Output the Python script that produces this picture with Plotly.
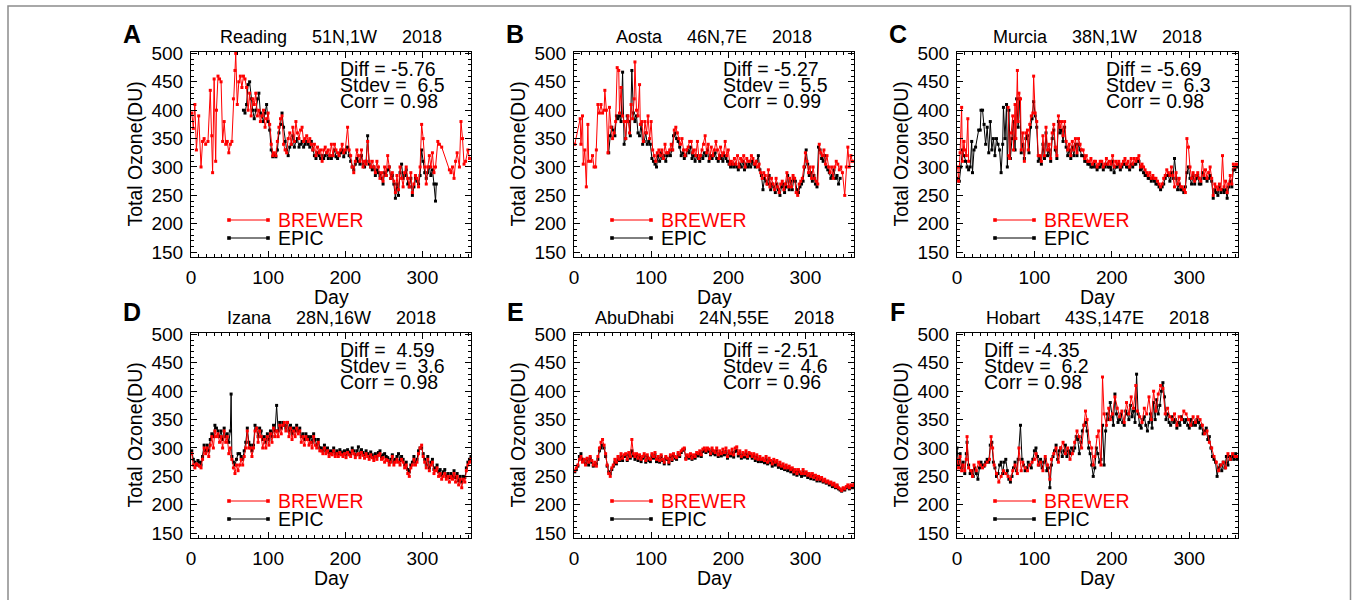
import plotly.graph_objects as go

W, H = 1356, 600
FONT = "Liberation Sans, Arial, Helvetica, sans-serif"

# ---------------- data ----------------
stations = ["Reading", "Aosta", "Murcia", "Izana", "AbuDhabi", "Hobart"]
locations = ["51N,1W", "46N,7E", "38N,1W", "28N,16W", "24N,55E", "43S,147E"]
year = "2018"
diffs = ["-5.76", "-5.27", "-5.69", "4.59", "-2.51", "-4.35"]
stdevs = ["6.5", "5.5", "6.3", "3.6", "4.6", "6.2"]
corrs = ["0.98", "0.99", "0.98", "0.98", "0.96", "0.98"]
letters = ["A", "B", "C", "D", "E", "F"]
x_ticks = [0, 100, 200, 300]
y_ticks = [150, 200, 250, 300, 350, 400, 450, 500]
series_names = ["BREWER", "EPIC"]

reading_brewer = [(1,395),(3,368),(5,410),(7,330),(10,390),(13,300),(15,345),(17,350),(19,340),(22,345),(25,435),(27,355),(28,290),(30,455),(32,310),(33,400),(35,460),(37,455),(39,450),(41,345),(43,380),(45,340),(47,345),(49,325),(51,340),(53,345),(55,420),(57,470),(58,500),(60,410),(62,450),(64,460),(66,440),(68,460),(70,455),(72,440),(74,400),(76,430),(78,390),(80,420),(82,410),(84,430),(86,390),(88,400),(90,380),(92,390),(94,400),(96,370),(98,385),(100,395),(102,375),(104,340),(106,320),(108,325),(110,320),(112,345),(114,370),(116,385),(118,390),(120,340),(122,330),(124,325),(126,350),(128,360),(130,340),(132,370),(134,345),(136,380),(138,360),(140,350),(142,365),(144,370),(146,345),(148,350),(150,355),(152,345),(154,350),(156,340),(158,330),(160,340),(162,320),(164,335),(166,325),(168,330),(170,310),(172,330),(174,335),(176,325),(178,330),(180,320),(182,340),(184,320),(186,340),(188,330),(190,325),(192,320),(194,330),(196,340),(198,325),(200,330),(203,370),(205,330),(207,320),(209,300),(211,290),(213,310),(215,330),(217,320),(219,310),(221,330),(223,300),(225,310),(227,305),(229,345),(231,310),(233,300),(235,310),(237,300),(239,290),(241,310),(243,300),(245,280),(247,290),(249,275),(251,300),(253,285),(255,320),(257,300),(259,280),(261,290),(263,275),(265,255),(267,285),(269,260),(271,300),(273,280),(275,265),(277,290),(279,300),(281,280),(283,265),(285,290),(287,255),(289,270),(291,285),(293,280),(295,265),(297,300),(299,375),(301,350),(303,300),(305,270),(307,300),(309,320),(311,300),(313,325),(315,290),(317,300),(320,345),(322,340),(325,335),(335,295),(337,290),(339,300),(341,280),(343,310),(345,325),(348,300),(350,380),(352,350),(354,305),(356,310),(359,330),(361,315)]
reading_epic = [(68,400),(70,395),(72,410),(74,445),(76,450),(78,420),(80,400),(82,385),(84,400),(86,420),(88,430),(90,395),(92,390),(94,380),(96,395),(98,410),(100,380),(102,365),(104,330),(106,318),(108,320),(110,318),(112,330),(114,360),(116,375),(118,395),(120,370),(122,345),(124,330),(126,320),(128,335),(130,340),(132,355),(134,335),(136,345),(138,350),(140,335),(142,340),(144,345),(146,335),(148,340),(150,345),(152,340),(154,335),(156,345),(158,330),(160,320),(162,315),(164,325),(166,320),(168,315),(170,320),(172,315),(174,320),(176,325),(178,315),(180,320),(182,315),(184,320),(186,330),(188,318),(190,315),(192,320),(194,325),(196,330),(198,318),(200,325),(203,335),(205,320),(207,310),(209,300),(211,295),(213,305),(215,315),(217,310),(219,305),(221,320),(223,305),(225,300),(227,310),(229,355),(231,305),(233,300),(235,295),(237,300),(239,285),(241,295),(243,290),(245,285),(247,280),(249,270),(251,290),(253,285),(255,295),(257,300),(259,280),(261,285),(263,270),(265,245),(267,270),(269,250),(271,290),(273,305),(275,280),(277,285),(279,295),(281,270),(283,265),(285,280),(287,250),(289,265),(291,280),(293,275),(295,270),(297,285),(299,330),(301,310),(303,290),(305,280),(307,290),(309,300),(311,285),(313,295),(315,270),(317,240),(318,270)]

aosta_brewer = [(1,340),(8,385),(9,340),(11,390),(12,305),(14,330),(16,265),(18,375),(19,310),(22,310),(24,320),(26,300),(28,300),(29,330),(31,410),(33,395),(35,410),(37,395),(39,400),(40,435),(42,400),(44,325),(46,405),(48,370),(50,350),(52,360),(54,380),(56,475),(58,470),(59,395),(61,440),(63,390),(65,380),(67,350),(68,380),(70,390),(72,360),(74,410),(76,385),(78,420),(79,485),(81,400),(83,390),(85,445),(86,375),(88,380),(90,345),(92,380),(94,360),(96,390),(98,350),(100,380),(102,330),(104,320),(106,310),(108,325),(110,330),(112,320),(114,330),(116,315),(118,340),(120,325),(122,325),(124,330),(126,340),(128,330),(130,365),(132,370),(134,360),(136,350),(138,340),(140,350),(142,330),(144,320),(146,330),(148,335),(150,345),(152,345),(154,325),(156,330),(158,320),(160,345),(162,315),(164,320),(166,330),(168,340),(170,355),(172,325),(174,340),(176,315),(178,335),(180,320),(182,330),(184,345),(186,330),(188,315),(190,335),(192,320),(194,325),(196,345),(198,320),(200,330),(202,305),(204,310),(206,305),(208,315),(210,305),(212,320),(214,300),(216,315),(218,310),(220,320),(222,300),(224,315),(226,310),(228,310),(230,320),(232,315),(234,305),(236,310),(238,300),(240,305),(242,290),(244,280),(246,290),(248,285),(250,270),(252,295),(254,265),(256,280),(258,270),(260,260),(262,280),(264,265),(266,255),(268,270),(270,275),(272,260),(274,270),(276,290),(278,265),(280,280),(282,265),(284,285),(286,280),(288,255),(290,250),(292,270),(294,275),(296,280),(298,300),(300,325),(302,310),(304,290),(306,300),(308,280),(310,300),(312,280),(314,275),(316,270),(318,340),(320,325),(322,320),(324,330),(326,305),(328,320),(330,300),(332,290),(334,300),(336,280),(338,300),(340,310),(342,305),(344,295),(346,300),(348,290),(351,250),(353,300),(355,335),(357,300),(359,320),(361,310)]
aosta_epic = [(45,325),(47,355),(49,370),(51,365),(53,355),(55,390),(57,385),(59,390),(61,380),(63,467),(65,340),(67,350),(69,390),(71,380),(73,355),(75,470),(77,395),(79,380),(81,390),(83,360),(85,355),(87,375),(89,340),(91,345),(93,360),(95,340),(97,345),(99,340),(101,315),(103,310),(105,305),(107,300),(109,320),(111,310),(113,325),(115,315),(117,320),(119,310),(121,320),(123,325),(125,320),(127,330),(129,355),(131,360),(133,350),(135,345),(137,335),(139,320),(141,325),(143,315),(145,320),(147,330),(149,325),(151,335),(153,315),(155,320),(157,310),(159,320),(161,315),(163,310),(165,320),(167,315),(169,325),(171,320),(173,330),(175,310),(177,320),(179,315),(181,320),(183,325),(185,315),(187,310),(189,320),(191,315),(193,310),(195,320),(197,315),(199,310),(201,305),(203,300),(205,305),(207,300),(209,305),(211,300),(213,295),(215,305),(217,300),(219,310),(221,295),(223,305),(225,300),(227,305),(229,300),(231,310),(233,305),(235,300),(237,310),(239,320),(241,295),(243,285),(245,260),(247,280),(249,275),(251,270),(253,285),(255,260),(257,270),(259,265),(261,255),(263,270),(265,260),(267,250),(269,265),(271,270),(273,255),(275,265),(277,285),(279,260),(281,275),(283,260),(285,280),(287,275),(289,260),(291,255),(293,265),(295,270),(297,275),(299,300),(301,330),(303,305),(305,285),(307,290),(309,275),(311,285),(313,270),(315,265),(317,335),(319,330),(321,315),(323,310),(325,320),(327,300),(329,295),(331,290),(333,280),(335,285),(337,295),(339,280),(341,285),(343,270),(345,280)]

murcia_brewer = [(1,300),(2,275),(4,325),(6,405),(7,310),(9,345),(10,330),(12,320),(14,385),(15,310),(40,None),(66,405),(67,320),(68,315),(70,360),(72,390),(73,330),(75,410),(76,350),(78,470),(79,380),(80,430),(82,420),(83,330),(85,360),(87,310),(89,360),(91,365),(92,330),(94,375),(96,390),(98,395),(99,460),(101,395),(103,380),(105,320),(107,320),(109,310),(111,355),(113,320),(115,370),(117,330),(119,340),(121,315),(123,360),(125,375),(127,335),(129,320),(131,390),(133,370),(135,380),(137,355),(139,380),(141,345),(143,330),(145,340),(147,320),(149,345),(151,330),(153,350),(155,325),(157,350),(159,340),(161,330),(163,330),(165,315),(167,320),(169,310),(171,310),(173,315),(175,305),(177,310),(179,310),(181,300),(183,305),(185,310),(187,310),(189,300),(191,305),(193,315),(195,305),(197,310),(199,305),(201,320),(203,300),(205,310),(207,305),(209,310),(211,300),(213,305),(215,310),(217,315),(219,305),(221,310),(223,300),(225,315),(227,305),(229,315),(231,310),(233,315),(235,320),(237,300),(239,305),(241,300),(243,295),(245,290),(247,285),(249,290),(251,280),(253,285),(255,280),(257,280),(259,275),(261,270),(263,265),(265,270),(267,280),(269,285),(271,295),(273,290),(275,285),(277,300),(279,285),(281,265),(283,290),(285,270),(287,280),(289,265),(291,265),(293,260),(295,255),(297,350),(299,335),(301,300),(303,280),(305,290),(307,275),(309,285),(311,290),(313,280),(315,275),(317,310),(319,285),(321,295),(323,280),(325,290),(327,300),(329,280),(331,250),(333,270),(335,265),(337,260),(339,270),(341,260),(343,320),(345,265),(347,275),(349,255),(351,270),(353,285),(355,270),(357,305),(359,300),(361,305)]
murcia_epic = [(1,280),(3,275),(5,300),(7,330),(9,320),(11,310),(13,300),(15,295),(17,300),(19,345),(20,290),(22,330),(24,335),(28,365),(30,365),(31,400),(33,400),(35,375),(37,340),(39,370),(41,325),(43,380),(45,330),(47,350),(49,320),(51,350),(53,340),(55,330),(57,290),(59,340),(60,405),(62,350),(64,410),(65,300),(67,400),(69,315),(71,350),(73,380),(75,330),(77,420),(79,370),(81,420),(83,325),(85,340),(87,315),(89,350),(91,355),(93,325),(95,370),(97,385),(99,415),(101,390),(103,370),(105,310),(107,315),(109,305),(111,340),(113,315),(115,360),(117,320),(119,330),(121,310),(123,350),(125,365),(127,330),(129,315),(131,380),(133,360),(135,365),(137,345),(139,370),(141,335),(143,320),(145,330),(147,315),(149,335),(151,320),(153,340),(155,320),(157,340),(159,330),(161,320),(163,320),(165,310),(167,310),(169,305),(171,305),(173,300),(175,300),(177,305),(179,300),(181,295),(183,300),(185,300),(187,305),(189,295),(191,300),(193,305),(195,300),(197,300),(199,295),(201,310),(203,290),(205,300),(207,300),(209,305),(211,295),(213,300),(215,305),(217,305),(219,300),(221,300),(223,295),(225,305),(227,300),(229,305),(231,305),(233,310),(235,310),(237,295),(239,300),(241,290),(243,285),(245,285),(247,280),(249,280),(251,275),(253,280),(255,275),(257,270),(259,270),(261,265),(263,260),(265,265),(267,270),(269,280),(271,285),(273,285),(275,275),(277,290),(279,280),(281,315),(283,280),(285,260),(287,270),(289,260),(291,260),(293,255),(295,265),(297,290),(299,300),(301,280),(303,270),(305,285),(307,270),(309,280),(311,285),(313,270),(315,270),(317,290),(319,280),(321,280),(323,275),(325,280),(327,285),(329,275),(331,245),(333,260),(335,255),(337,250),(339,265),(341,255),(343,260),(345,255),(347,260),(349,245),(351,265),(353,275),(355,265),(357,295),(359,295),(361,300)]

izana_brewer = [(1,290),(3,270),(5,265),(7,272),(9,270),(11,268),(13,265),(15,280),(17,300),(19,290),(21,300),(23,285),(25,305),(27,320),(29,300),(31,330),(33,320),(35,325),(37,310),(39,320),(41,300),(43,330),(45,310),(47,320),(49,290),(51,300),(53,280),(55,265),(57,255),(59,270),(61,260),(63,270),(65,280),(67,270),(69,285),(71,300),(73,330),(75,300),(77,300),(79,285),(81,300),(83,330),(85,335),(87,310),(89,330),(91,320),(93,300),(95,315),(97,300),(99,320),(101,305),(103,325),(105,310),(107,335),(109,320),(111,330),(113,320),(115,340),(117,325),(119,340),(121,345),(123,330),(125,345),(127,320),(129,335),(131,315),(133,330),(135,320),(137,335),(139,325),(141,330),(143,310),(145,320),(147,305),(149,320),(151,315),(153,305),(155,310),(157,300),(159,320),(161,305),(163,300),(165,310),(167,295),(169,295),(171,290),(173,300),(175,290),(177,295),(179,285),(181,290),(183,288),(185,295),(187,285),(189,290),(191,285),(193,292),(195,288),(197,285),(199,290),(201,283),(203,292),(205,288),(207,285),(209,295),(211,290),(213,283),(215,288),(217,290),(219,283),(221,292),(223,287),(225,282),(227,290),(229,285),(231,280),(233,288),(235,283),(237,278),(239,285),(241,280),(243,287),(245,290),(247,280),(249,283),(251,275),(253,280),(255,278),(257,270),(259,275),(261,285),(263,270),(265,275),(267,280),(269,275),(271,270),(273,280),(275,275),(277,265),(279,270),(281,255),(283,250),(285,265),(287,270),(289,280),(291,270),(293,275),(295,290),(297,300),(299,305),(301,285),(303,275),(305,265),(307,280),(309,260),(311,270),(313,275),(315,255),(317,260),(319,265),(321,250),(323,255),(325,245),(327,250),(329,255),(331,245),(333,250),(335,240),(337,250),(339,245),(341,255),(343,240),(345,250),(347,235),(349,245),(351,230),(353,245),(355,240),(357,260),(359,270),(361,275),(363,280)]
izana_epic = [(1,295),(3,280),(5,275),(7,270),(9,278),(11,275),(13,270),(15,285),(17,305),(19,295),(21,305),(23,295),(25,315),(27,325),(29,320),(31,340),(33,335),(35,330),(37,320),(39,330),(41,315),(43,335),(45,320),(47,325),(49,310),(51,330),(52,395),(53,285),(55,275),(57,270),(59,280),(61,290),(63,290),(65,285),(67,280),(69,295),(71,310),(73,335),(75,310),(77,305),(79,295),(81,305),(83,340),(85,335),(87,320),(89,335),(91,330),(93,315),(95,320),(97,310),(99,325),(101,315),(103,330),(105,320),(107,340),(109,330),(111,375),(113,330),(115,345),(117,335),(119,345),(121,340),(123,335),(125,345),(127,330),(129,340),(131,325),(133,335),(135,330),(137,340),(139,330),(141,335),(143,320),(145,325),(147,315),(149,325),(151,320),(153,315),(155,320),(157,310),(159,325),(161,315),(163,305),(165,315),(167,300),(169,300),(171,295),(173,305),(175,295),(177,300),(179,292),(181,295),(183,293),(185,300),(187,290),(189,295),(191,290),(193,297),(195,293),(197,290),(199,295),(201,288),(203,297),(205,293),(207,290),(209,300),(211,295),(213,288),(215,295),(217,302),(219,288),(221,297),(223,292),(225,288),(227,295),(229,290),(231,285),(233,293),(235,288),(237,283),(239,290),(241,285),(243,292),(245,295),(247,285),(249,288),(251,290),(253,285),(255,283),(257,275),(259,280),(261,288),(263,275),(265,280),(267,285),(269,290),(271,278),(273,285),(275,280),(277,270),(279,275),(281,262),(283,258),(285,270),(287,275),(289,285),(291,275),(293,280),(295,295),(297,300),(299,300),(301,290),(303,280),(305,270),(307,285),(309,265),(311,275),(313,280),(315,262),(317,265),(319,270),(321,258),(323,262),(325,252),(327,258),(329,262),(331,250),(333,255),(335,248),(337,255),(339,250),(341,260),(343,248),(345,255),(347,242),(349,250),(351,240),(353,250),(355,248),(357,265),(359,275),(361,280),(363,285)]

abudhabi_brewer = [(1,260),(3,265),(5,270),(7,280),(9,285),(11,275),(13,280),(15,270),(17,282),(19,275),(21,285),(23,278),(25,270),(27,275),(29,268),(31,285),(33,300),(35,310),(37,315),(39,305),(41,290),(43,270),(45,255),(47,250),(49,265),(51,270),(53,280),(55,275),(57,285),(59,280),(61,290),(63,282),(65,288),(67,290),(69,280),(71,292),(73,285),(75,315),(77,290),(79,285),(81,290),(83,282),(85,288),(87,280),(89,285),(91,290),(93,278),(95,288),(97,282),(99,280),(101,290),(103,285),(105,292),(107,280),(109,285),(111,278),(113,288),(115,280),(117,275),(119,285),(121,282),(123,275),(125,288),(127,280),(129,290),(131,285),(133,283),(135,292),(137,288),(139,295),(141,298),(143,300),(145,280),(147,288),(149,285),(151,290),(153,282),(155,288),(157,285),(159,292),(161,290),(163,295),(165,288),(167,298),(169,300),(171,295),(173,300),(175,298),(177,290),(179,300),(181,295),(183,292),(185,300),(187,288),(189,295),(191,290),(193,298),(195,292),(197,300),(199,285),(201,295),(203,290),(205,298),(207,288),(209,300),(211,302),(213,290),(215,295),(217,285),(219,292),(221,288),(223,295),(225,285),(227,292),(229,290),(231,285),(233,290),(235,282),(237,288),(239,280),(241,285),(243,280),(245,282),(247,278),(249,285),(251,275),(253,282),(255,278),(257,272),(259,280),(261,275),(263,278),(265,270),(267,275),(269,268),(271,272),(273,265),(275,270),(277,265),(279,268),(281,262),(283,265),(285,258),(287,262),(289,255),(291,262),(293,258),(295,255),(297,262),(299,255),(301,258),(303,252),(305,255),(307,250),(309,255),(311,248),(313,252),(315,245),(317,250),(319,245),(321,248),(323,242),(325,245),(327,240),(329,242),(331,238),(333,240),(335,235),(337,238),(339,232),(341,235),(343,230),(345,228),(347,225),(349,230),(351,228),(353,232),(355,235),(357,230),(359,235),(361,232),(363,236)]
abudhabi_epic = [(1,258),(3,262),(5,268),(7,285),(9,290),(11,280),(13,278),(15,272),(17,280),(19,270),(21,282),(23,275),(25,268),(27,270),(29,272),(31,280),(33,295),(35,300),(37,305),(39,300),(41,285),(43,268),(45,258),(47,255),(49,262),(51,268),(53,275),(55,272),(57,280),(59,278),(61,285),(63,278),(65,285),(67,286),(69,278),(71,288),(73,282),(75,295),(77,286),(79,280),(81,285),(83,278),(85,284),(87,276),(89,282),(91,286),(93,275),(95,284),(97,278),(99,276),(101,286),(103,282),(105,288),(107,276),(109,282),(111,275),(113,285),(115,278),(117,272),(119,282),(121,280),(123,272),(125,285),(127,278),(129,286),(131,282),(133,280),(135,288),(137,285),(139,292),(141,296),(143,298),(145,282),(147,285),(149,282),(151,286),(153,280),(155,284),(157,282),(159,288),(161,286),(163,290),(165,285),(167,294),(169,296),(171,292),(173,296),(175,294),(177,288),(179,296),(181,290),(183,288),(185,295),(187,285),(189,290),(191,286),(193,292),(195,288),(197,294),(199,282),(201,290),(203,286),(205,292),(207,284),(209,294),(211,296),(213,286),(215,290),(217,282),(219,288),(221,284),(223,290),(225,282),(227,288),(229,286),(231,282),(233,286),(235,278),(237,284),(239,276),(241,280),(243,276),(245,278),(247,274),(249,280),(251,272),(253,278),(255,274),(257,268),(259,276),(261,270),(263,274),(265,266),(267,270),(269,264),(271,268),(273,262),(275,266),(277,260),(279,264),(281,258),(283,262),(285,254),(287,258),(289,252),(291,258),(293,254),(295,250),(297,258),(299,252),(301,255),(303,248),(305,252),(307,246),(309,252),(311,245),(313,248),(315,242),(317,246),(319,242),(321,244),(323,240),(325,242),(327,238),(329,240),(331,235),(333,238),(335,232),(337,235),(339,230),(341,233),(343,228),(345,226),(347,224),(349,228),(351,226),(353,230),(355,232),(357,228),(359,232),(361,230),(363,234)]

hobart_brewer = [(0,280),(2,265),(4,285),(6,260),(8,270),(10,260),(12,280),(13,320),(15,265),(18,260),(20,250),(22,270),(25,260),(28,275),(30,270),(33,265),(36,270),(39,275),(42,280),(44,320),(46,300),(48,270),(51,255),(54,240),(57,250),(60,260),(63,255),(66,250),(69,245),(72,260),(75,270),(78,255),(80,300),(83,260),(85,275),(88,265),(91,260),(94,270),(97,275),(100,280),(102,290),(105,270),(108,275),(111,260),(114,285),(117,270),(120,245),(122,280),(125,290),(128,300),(131,275),(134,300),(137,310),(140,290),(143,300),(146,280),(149,290),(152,310),(155,330),(158,320),(161,300),(164,340),(166,365),(168,350),(171,310),(174,300),(176,270),(178,285),(181,320),(183,330),(186,270),(188,425),(190,360),(193,340),(196,370),(198,350),(201,360),(204,390),(207,370),(210,355),(213,365),(216,345),(219,380),(222,360),(225,390),(228,370),(231,410),(233,365),(236,355),(239,345),(242,370),(245,360),(248,390),(251,350),(254,400),(257,365),(260,395),(263,410),(266,405),(269,360),(272,370),(275,355),(278,350),(281,360),(284,340),(287,355),(290,350),(293,365),(296,360),(299,350),(302,340),(305,355),(308,345),(311,355),(314,350),(317,340),(320,325),(323,330),(326,310),(329,300),(332,285),(335,275),(338,260),(341,270),(344,275),(347,265),(350,290),(353,280),(356,290),(359,285),(362,285)]
hobart_epic = [(0,300),(2,270),(4,290),(6,265),(8,275),(10,255),(12,290),(13,310),(15,270),(17,255),(19,260),(21,250),(23,265),(25,255),(27,245),(29,265),(31,275),(33,270),(35,268),(37,275),(39,280),(41,275),(43,305),(45,310),(47,275),(49,265),(51,250),(53,255),(55,270),(57,275),(59,255),(61,275),(63,280),(65,260),(67,245),(69,240),(71,250),(73,265),(75,275),(77,260),(79,280),(82,340),(84,280),(86,270),(88,260),(90,265),(92,275),(94,270),(96,265),(98,280),(100,295),(102,300),(104,285),(106,270),(108,280),(110,265),(112,275),(114,280),(116,260),(118,265),(120,230),(122,270),(124,285),(126,295),(128,305),(130,280),(132,295),(134,300),(136,285),(138,295),(140,305),(142,285),(144,295),(146,290),(148,300),(150,295),(152,300),(154,320),(156,315),(158,290),(160,310),(162,330),(164,340),(166,345),(168,330),(170,300),(172,290),(174,270),(176,250),(178,265),(180,300),(182,290),(184,275),(186,280),(188,340),(190,270),(192,330),(194,360),(196,350),(198,380),(200,355),(202,340),(204,395),(206,360),(208,345),(210,350),(212,360),(214,345),(216,340),(218,365),(220,360),(222,350),(224,375),(226,355),(228,365),(230,345),(232,430),(234,360),(236,340),(238,335),(240,350),(242,355),(244,340),(246,330),(248,345),(250,360),(252,335),(254,380),(256,350),(258,385),(260,360),(262,375),(264,400),(266,415),(268,390),(270,350),(272,360),(274,345),(276,340),(278,355),(280,345),(282,350),(284,335),(286,345),(288,340),(290,355),(292,350),(294,345),(296,350),(298,340),(300,335),(302,350),(304,340),(306,345),(308,340),(310,350),(312,345),(314,335),(316,340),(318,325),(320,330),(322,335),(324,315),(326,320),(328,300),(330,285),(332,280),(334,275),(336,250),(338,265),(340,270),(342,260),(344,275),(346,265),(348,285),(350,270),(352,285),(354,280),(356,285),(358,280),(360,290),(362,280)]

brewer_series = [reading_brewer, aosta_brewer, murcia_brewer, izana_brewer, abudhabi_brewer, hobart_brewer]
epic_series = [reading_epic, aosta_epic, murcia_epic, izana_epic, abudhabi_epic, hobart_epic]

# ---------------- layout geometry (pixels) ----------------
col_px = [(191, 471), (574, 854), (957, 1238)]
row_px = [(52, 257), (333, 538)]
X_RANGE = [0, 363]
Y_RANGE = [141.5, 502.5]
RED = "#ff0000"


def px(x):
    return x / W


def py(y):
    return 1 - y / H


def nb(s):
    return s.replace(" ", "\u00a0")


fig = go.Figure()
annotations = []
shapes = []
layout_axes = {}

for i in range(6):
    r, c = divmod(i, 3)
    x0, x1 = col_px[c]
    y0, y1 = row_px[r]
    n = i + 1
    xa = "x" if n == 1 else f"x{n}"
    ya = "y" if n == 1 else f"y{n}"
    xkey = "xaxis" if n == 1 else f"xaxis{n}"
    ykey = "yaxis" if n == 1 else f"yaxis{n}"

    for pairs, color in ((epic_series[i], "black"), (brewer_series[i], RED)):
        days = [p[0] for p in pairs]
        vals = [p[1] for p in pairs]
        fig.add_trace(go.Scatter(
            x=days, y=vals, mode="lines+markers", xaxis=xa, yaxis=ya,
            line=dict(color=color, width=1),
            marker=dict(symbol="square", size=3, color=color),
            showlegend=False, hoverinfo="skip", connectgaps=False,
        ))

    common = dict(
        showline=True, linecolor="black", linewidth=1, mirror="allticks",
        ticks="inside", ticklen=6, tickwidth=1, tickcolor="black",
        showgrid=False, zeroline=False, automargin=False,
        tickfont=dict(family=FONT, size=19, color="black"),
    )
    layout_axes[xkey] = dict(
        common, domain=[px(x0), px(x1)], anchor=ya, range=X_RANGE,
        tickmode="array", tickvals=x_ticks, ticklabelstandoff=3,
        minor=dict(ticks="inside", ticklen=3, tick0=0, dtick=10, tickcolor="black", showgrid=False),
    )
    layout_axes[ykey] = dict(
        common, domain=[py(y1), py(y0)], anchor=xa, range=Y_RANGE,
        tickmode="array", tickvals=y_ticks, ticklabelstandoff=3,
        minor=dict(ticks="inside", ticklen=3, tick0=0, dtick=10, tickcolor="black", showgrid=False),
    )

    cx = (x0 + x1) / 2
    annotations.append(dict(
        x=px(cx), y=py(y0 - 15), xref="paper", yref="paper", showarrow=False,
        xanchor="center", yanchor="middle",
        text=nb(f"{stations[i]}     {locations[i]}     {year}"),
        font=dict(family=FONT, size=18, color="black"),
    ))
    annotations.append(dict(
        x=px(x0 - 59), y=py(y0 - (18 if r == 0 else 21)), xref="paper", yref="paper",
        showarrow=False, xanchor="center", yanchor="middle",
        text=f"<b>{letters[i]}</b>", font=dict(family=FONT, size=25, color="black"),
    ))
    annotations.append(dict(
        x=px(x0 - 57), y=py((y0 + y1) / 2), xref="paper", yref="paper",
        showarrow=False, xanchor="center", yanchor="middle", textangle=-90,
        text="Total Ozone(DU)", font=dict(family=FONT, size=19.5, color="black"),
    ))
    annotations.append(dict(
        x=px(cx), y=py(y1 + 40), xref="paper", yref="paper",
        showarrow=False, xanchor="center", yanchor="middle",
        text="Day", font=dict(family=FONT, size=19.5, color="black"),
    ))
    sx = x0 + (25 if i == 5 else 147)
    stats = [f"Diff = {diffs[i]:>5}", f"Stdev = {stdevs[i]:>4}", f"Corr = {corrs[i]}"]
    for k, (txt, dy) in enumerate(zip(stats, (17, 33, 49))):
        annotations.append(dict(
            x=px(sx), y=py(y0 + dy), xref="paper", yref="paper", showarrow=False,
            xanchor="left", yanchor="middle", text=nb(txt),
            font=dict(family=FONT, size=19.5, color="black"),
        ))
    for name, color, dy in ((series_names[0], RED, 37), (series_names[1], "black", 19)):
        ly = y1 - dy
        lx0, lx1 = x0 + 38, x0 + 77
        shapes.append(dict(type="line", xref="paper", yref="paper",
                           x0=px(lx0), x1=px(lx1), y0=py(ly), y1=py(ly),
                           line=dict(color=color, width=1)))
        for mx in (lx0, lx1):
            shapes.append(dict(type="rect", xref="paper", yref="paper",
                               x0=px(mx - 1.8), x1=px(mx + 1.8), y0=py(ly + 1.8), y1=py(ly - 1.8),
                               line=dict(width=0), fillcolor=color))
        annotations.append(dict(
            x=px(x0 + 85), y=py(ly), xref="paper", yref="paper", showarrow=False,
            xanchor="left", yanchor="middle", text=name,
            font=dict(family=FONT, size=19.5, color=color),
        ))

shapes.append(dict(type="rect", xref="paper", yref="paper",
                   x0=px(8), x1=px(1350.5), y0=-0.05, y1=py(6),
                   line=dict(color="#8c8c8c", width=1.5), fillcolor="rgba(0,0,0,0)"))

fig.update_layout(
    width=W, height=H, autosize=False,
    margin=dict(l=0, r=0, t=0, b=0, pad=0, autoexpand=False),
    paper_bgcolor="white", plot_bgcolor="white",
    showlegend=False,
    annotations=annotations, shapes=shapes,
    font=dict(family=FONT, color="black"),
    **layout_axes,
)

fig.write_html(
    "out.html",
    config={"displayModeBar": False},
    post_script=(
        "document.body.style.margin='0';document.body.style.padding='0';"
        "document.body.style.overflow='hidden';"
        "var gd=document.getElementById('{plot_id}');"
        "gd.style.position='fixed';gd.style.left='0px';gd.style.top='0px';"
    ),
)
